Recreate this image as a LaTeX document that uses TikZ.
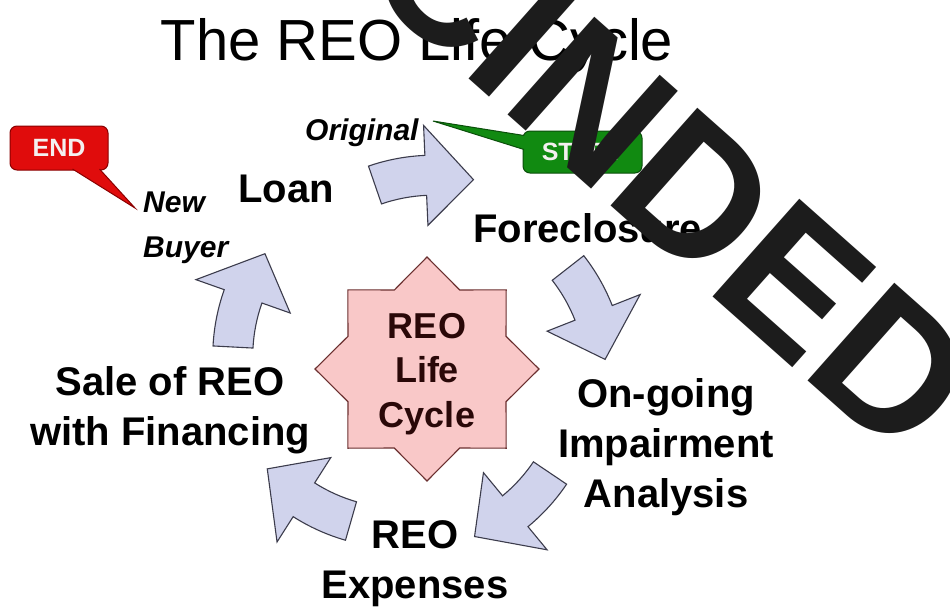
\documentclass[tikz,border=0pt]{standalone}
\usepackage{fontspec}
\setmainfont{Liberation Sans}
\usetikzlibrary{shapes.geometric}

\begin{document}
\begin{tikzpicture}[x=1pt, y=1pt,
  steplabel/.style={font=\bfseries\fontsize{40}{50}\selectfont, align=center, inner sep=0pt},
  notelabel/.style={font=\bfseries\itshape\fontsize{30}{45}\selectfont, align=left, inner sep=0pt},
  arrowshape/.style={fill=arrowblue, draw=arrowline, line width=1.1pt},
  tagbox/.style={rounded corners=7pt, line width=1pt, text=tagtext, minimum height=44pt, inner sep=0pt, font=\bfseries\fontsize{25}{25}\selectfont},
  cyclearrow/.pic={
    \begin{scope}[shift={(0,-180)}]
    \draw[arrowshape] (90:200) arc[start angle=90, end angle=73.5, radius=200]
      -- (73.5:230) -- (58.2:180) -- (73.5:130) -- (73.5:160)
      arc[start angle=73.5, end angle=90, radius=160] -- cycle;
    \end{scope}}]
\definecolor{arrowblue}{HTML}{D0D3EC}
\definecolor{arrowline}{HTML}{3C3C4C}
\definecolor{starpink}{HTML}{F9C8C8}
\definecolor{starline}{HTML}{6B3030}
\definecolor{startext}{HTML}{2A0808}
\definecolor{endred}{HTML}{E00C0C}
\definecolor{endline}{HTML}{8A0000}
\definecolor{startgreen}{HTML}{118A11}
\definecolor{startline}{HTML}{0B4F0B}
\definecolor{tagtext}{HTML}{F4F0F0}
\definecolor{stampblack}{HTML}{1C1C1C}
\path[use as bounding box, fill=white] (0,0) rectangle (950,-608);

\node[font=\fontsize{58}{58}\selectfont, anchor=base, inner sep=0pt] (title) at (417,-60) {The REO Life Cycle};

% the five arrows of the cycle
\foreach \tailx/\taily/\ang in {375/185/19, 568/268/-52, 550/473/-124, 351/521/164, 233/347/87}
  {\pic[rotate=\ang] at (\tailx,-\taily) {cyclearrow};}

\node[star, star points=8, star point ratio=1.31, minimum size=224pt, inner sep=0pt,
  fill=starpink, draw=starline, line width=1.1pt] (reostar) at (427,-369) {};
\node[text=startext, align=center, inner sep=0pt, font=\bfseries\fontsize{36}{44.5}\selectfont,
  anchor=base] (reo) at (427,-427) {REO\\Life\\Cycle};

\node[steplabel, anchor=base] (loan) at (286,-202) {Loan};
\node[steplabel, anchor=base west] (foreclosure) at (473,-242) {Foreclosure};
\node[steplabel, anchor=base] (impairment) at (666,-507) {On-going\\Impairment\\Analysis};
\node[steplabel, anchor=base] (expenses) at (415,-598) {REO\\Expenses};
\node[steplabel, anchor=base] (sale) at (170,-445) {Sale of REO\\with Financing};
\node[notelabel, anchor=base west] (newbuyer) at (143,-257) {New\\Buyer};
\node[notelabel, anchor=base west] (original) at (305,-140) {Original};

% callouts
\coordinate (endtip) at (135,-208);
\coordinate (starttip) at (433,-121);
\node[tagbox, fill=endred, draw=endline, minimum width=98pt] (endbox) at (59,-148) {END};
\path[fill=endred, draw=endline, line width=1pt] ([xshift=-36pt, yshift=1.5pt]endbox.south east) -- (endtip) -- ([xshift=-9pt, yshift=1.5pt]endbox.south east);
\node[tagbox, fill=startgreen, draw=startline, minimum width=119pt, minimum height=42pt] (startbox) at (582.5,-152) {START};
\path[fill=startgreen, draw=startline, line width=1pt] ([xshift=1.5pt, yshift=-5pt]startbox.north west) -- (starttip) -- ([xshift=1.5pt, yshift=-19pt]startbox.north west);

% stamp over everything
\node[font=\bfseries\fontsize{190}{190}\selectfont, text=stampblack, rotate=-41.6, anchor=base, inner sep=0pt] (stamp) at (483,-92) {RESCINDED};
\end{tikzpicture}
\end{document}
